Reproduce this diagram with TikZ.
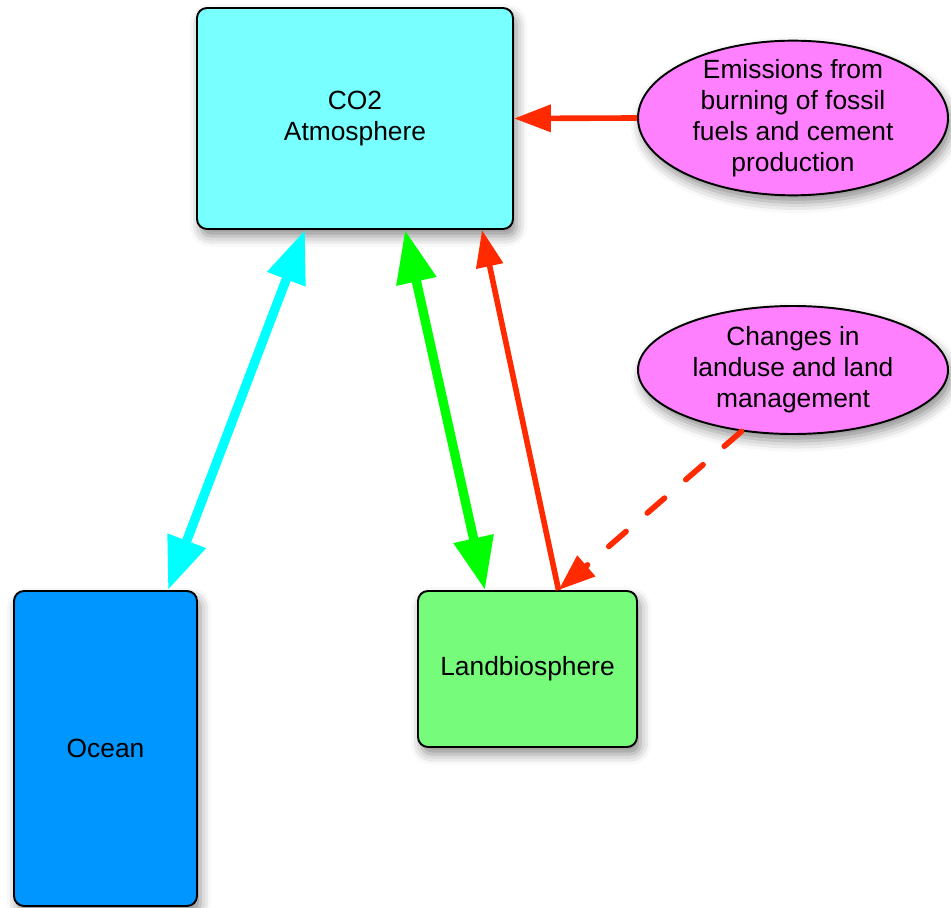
\documentclass[tikz,border=0pt]{standalone}
\usepackage{fontspec}
\setmainfont{Liberation Sans}
\usepackage{tikz}
\usepackage{xcolor}
\usetikzlibrary{positioning, arrows.meta, shapes, shadows.blur}

\definecolor{atmcyan}{RGB}{120,255,255}
\definecolor{oceanblue}{RGB}{0,150,255}
\definecolor{landgreen}{RGB}{118,251,123}
\definecolor{pinkish}{RGB}{255,128,255}
\definecolor{flowred}{RGB}{255,42,0}
\definecolor{flowcyan}{RGB}{0,255,255}
\definecolor{flowgreen}{RGB}{0,255,0}

\begin{document}
\begin{tikzpicture}[
        every node/.style={font=\fontsize{15}{17.6}\selectfont, align=center},
        pool/.style={rectangle, rounded corners=0.2cm, draw=black, line width=1.1pt, inner sep=0pt,
            blur shadow={shadow xshift=2pt, shadow yshift=-4pt, shadow blur radius=6pt, shadow opacity=45}},
        source/.style={ellipse, draw=black, line width=1.1pt, inner sep=0pt, fill=pinkish,
            minimum width=6.2cm,
            blur shadow={shadow xshift=2pt, shadow yshift=-4pt, shadow blur radius=6pt, shadow opacity=45}},
        exchange/.style={line width=5.3pt, {Triangle[length=30pt, width=22pt]}-{Triangle[length=30pt, width=22pt]}},
        flux/.style={flowred, line width=3.2pt, -{Triangle[length=21pt, width=15pt]}},
    ]
    \useasboundingbox (0,0) rectangle (19.02,-18.16);

    \node[pool, fill=atmcyan, minimum width=6.32cm, minimum height=4.42cm] (atm) at (7.1, -2.37) {CO2\\Atmosphere};
    \node[pool, fill=oceanblue, minimum width=3.66cm, minimum height=6.3cm] (ocean) at (2.11, -14.97) {Ocean};
    \node[pool, fill=landgreen, minimum width=4.38cm, minimum height=3.12cm] (land) at (10.55, -13.38) {Landbiosphere};
    \node[source, inner ysep=-0.08cm, minimum height=2.9cm] (fossil) at (15.86, -2.36) {Emissions from\\burning of fossil\\fuels and cement\\production};
    \node[source, minimum height=2.56cm] (landuse) at (15.86, -7.4) {Changes in\\landuse and land\\management};

    \coordinate (landtop) at ([xshift=0.62cm]land.north);

    \draw[exchange, flowcyan] ([xshift=-1cm]atm.south) -- ([xshift=1.25cm]ocean.north);
    \draw[exchange, flowgreen] ([xshift=1cm]atm.south) -- ([xshift=-0.85cm]land.north);
    \draw[flux] (landtop) -- ([xshift=2.54cm]atm.south);
    \draw[flux] (fossil.west) -- (atm.east);
    \draw[flux, dash pattern=on 13pt off 16pt, line cap=round] (landuse.230) -- (landtop);
\end{tikzpicture}
\end{document}
